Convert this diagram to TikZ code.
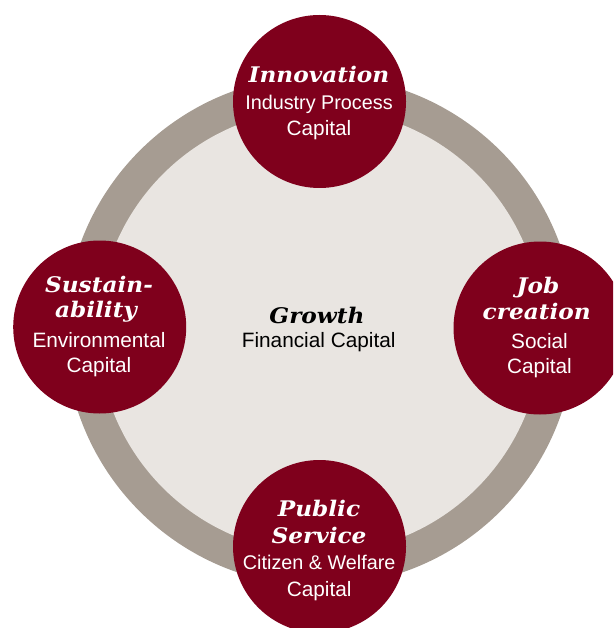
\documentclass[tikz,border=0pt]{standalone}
\usepackage{fontspec}
\setmainfont{Liberation Sans}
\newfontfamily\headfont{DejaVu Serif}[FakeStretch=1.08]
\definecolor{wine}{RGB}{127,0,28}
\definecolor{ringgrey}{RGB}{166,156,146}
\definecolor{innerfill}{RGB}{233,229,225}
\tikzset{
  bubble/.style={circle, fill=wine, draw=none, minimum size=173pt, inner sep=0pt},
  headtxt/.style={anchor=base, inner sep=0pt, font=\headfont\bfseries\itshape\fontsize{21.5}{24}\selectfont},
  bodytxt/.style={anchor=base, inner sep=0pt, font=\fontsize{20.8}{25}\selectfont},
  longtxt/.style={anchor=base, inner sep=0pt, font=\fontsize{19.8}{25}\selectfont},
  white/.style={text=white},
}
\begin{document}
\begin{tikzpicture}[x=1pt,y=-1pt]
\useasboundingbox (0,0) rectangle (613,628);
\clip (0,0) rectangle (613,628);
% ring
\fill[ringgrey] (320,331) circle (255);
\fill[innerfill] (320,331) circle (222);
% bubbles
\node[bubble] (top) at (319.5,101.5) {};
\node[bubble] (left) at (99.7,327) {};
\node[bubble] (right) at (540,328) {};
\node[bubble] (bottom) at (319.5,546.5) {};
% centre
\node[headtxt] (gro) at (317,323.3) {Growth};
\node[bodytxt] (fin) at (318.7,347.3) {Financial Capital};
% top
\node[headtxt,white] (inn) at (319,82.3) {Innovation};
\node[longtxt,white] (ind) at (319,110) {Industry Process};
\node[bodytxt,white] (capt) at (319,135.5) {Capital};
% left
\node[headtxt,white] (sus) at (99,292.7) {Sustain-};
\node[headtxt,white] (abi) at (96,317.3) {ability};
\node[bodytxt,white] (env) at (99,347.7) {Environmental};
\node[bodytxt,white] (capl) at (99,372.7) {Capital};
% right
\node[headtxt,white] (job) at (538,293.3) {Job};
\node[headtxt,white] (cre) at (536.7,319.3) {creation};
\node[bodytxt,white] (soc) at (539.5,348.3) {Social};
\node[bodytxt,white] (capr) at (539.5,373.3) {Capital};
% bottom
\node[headtxt,white] (pub) at (319,516.3) {Public};
\node[headtxt,white] (ser) at (319,543) {Service};
\node[longtxt,white] (cit) at (319.2,569.7) {Citizen \& Welfare};
\node[bodytxt,white] (capb) at (319.2,596.3) {Capital};
\end{tikzpicture}
\end{document}
